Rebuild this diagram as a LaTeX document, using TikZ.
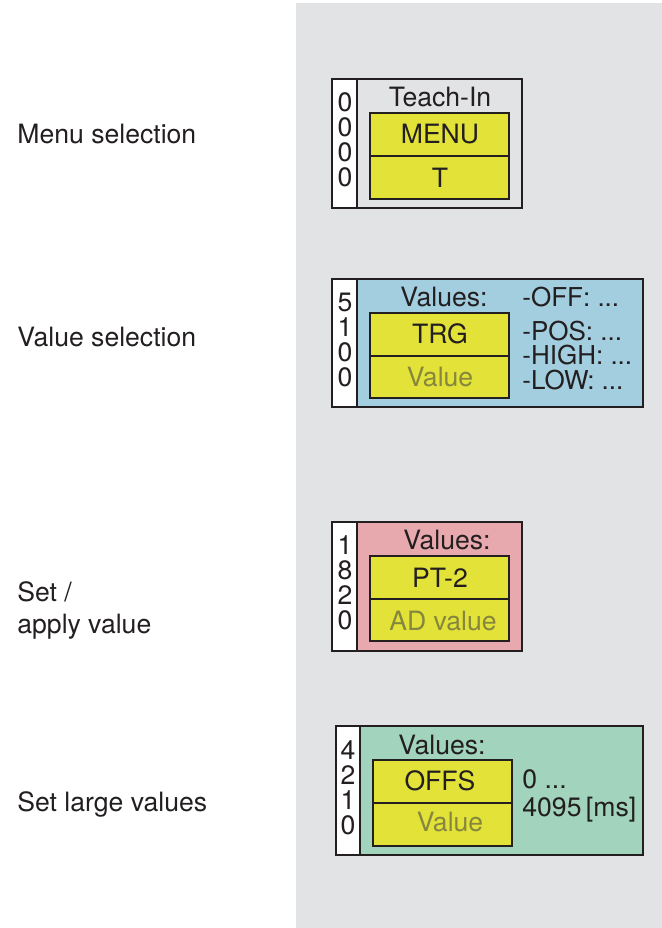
\documentclass[tikz,border=0pt]{standalone}
\usepackage{fontspec}
\setmainfont{TeX Gyre Heros}
\usepackage{tikz}
\usetikzlibrary{positioning}
\definecolor{PanelGray}{RGB}{226,227,229}
\definecolor{MenuYellow}{RGB}{226,226,56}
\definecolor{ValBlue}{RGB}{163,206,224}
\definecolor{ValRed}{RGB}{232,169,174}
\definecolor{ValGreen}{RGB}{161,211,189}
\definecolor{DimText}{RGB}{134,134,62}
\definecolor{InkBlack}{RGB}{35,31,32}

\begin{document}
\begin{tikzpicture}[x=0.5pt,y=-0.5pt,
	every node/.style={font=\fontsize{13.3}{16}\selectfont, text=InkBlack, inner sep=0pt},
	frame/.style={draw=InkBlack, line width=0.6pt},
	digits/.style={align=center, font=\fontsize{13.3}{12.5}\selectfont},
	dim/.style={text=DimText},
	label/.style={anchor=west, align=left},
	option/.style={anchor=west, font=\fontsize{13}{16}\selectfont}
	]
	\useasboundingbox (0,0) rectangle (662,928);
	\fill[PanelGray] (296,3) rectangle (662,928);

	% left column
	\node[label] (menusel) at (17,134) {Menu selection};
	\node[label] (valuesel) at (17,337) {Value selection};
	\node[label] (setapply) at (17,610) {Set /\\apply value};
	\node[label] (setlarge) at (17,804) {Set large values};

	% Teach-In menu
	\draw[frame, fill=PanelGray] (332,79) rectangle (522,208);
	\draw[frame, fill=white] (332,79) rectangle (357,208);
	\draw[frame, fill=MenuYellow] (370,113) rectangle (509,156);
	\draw[frame, fill=MenuYellow] (370,156) rectangle (509,199);
	\node[digits] (dig1) at (345,140) {0\\0\\0\\0};
	\node (teach) at (440,97) {Teach-In};
	\node (menu) at (440,134) {MENU};
	\node (tkey) at (440,178) {T};

	% TRG values
	\draw[frame, fill=ValBlue] (332,279) rectangle (643,407);
	\draw[frame, fill=white] (332,279) rectangle (357,407);
	\draw[frame, fill=MenuYellow] (370,313) rectangle (509,356);
	\draw[frame, fill=MenuYellow] (370,356) rectangle (509,398);
	\node[digits] (dig2) at (345,340) {5\\1\\0\\0};
	\node (vals2) at (444,297) {Values:};
	\node (trg) at (440,334) {TRG};
	\node[dim] (trgval) at (440,377) {Value};
	\node[option] (off) at (522,297) {-OFF: ...};
	\node[option] (pos) at (522,331) {-POS: ...};
	\node[option] (high) at (522,355) {-HIGH: ...};
	\node[option] (low) at (522,380) {-LOW: ...};

	% PT-2 values
	\draw[frame, fill=ValRed] (332,522) rectangle (522,651);
	\draw[frame, fill=white] (332,522) rectangle (357,651);
	\draw[frame, fill=MenuYellow] (370,556) rectangle (509,599);
	\draw[frame, fill=MenuYellow] (370,599) rectangle (509,641);
	\node[digits] (dig3) at (345,583) {1\\8\\2\\0};
	\node (vals3) at (447,540) {Values:};
	\node (pt) at (440,578) {PT-2};
	\node[dim] (adval) at (443,621) {AD value};

	% OFFS values
	\draw[frame, fill=ValGreen] (336,726) rectangle (643,855);
	\draw[frame, fill=white] (336,726) rectangle (360,855);
	\draw[frame, fill=MenuYellow] (373,760) rectangle (512,803);
	\draw[frame, fill=MenuYellow] (373,803) rectangle (512,846);
	\node[digits] (dig4) at (348,788) {4\\2\\1\\0};
	\node (vals4) at (442,745) {Values:};
	\node (offs) at (440,781) {OFFS};
	\node[dim] (offsval) at (450,822) {Value};
	\node[anchor=west] (zero) at (522,779) {0 ...};
	\node[anchor=west] (maxval) at (522,810) {4095\,[ms]};
\end{tikzpicture}
\end{document}
